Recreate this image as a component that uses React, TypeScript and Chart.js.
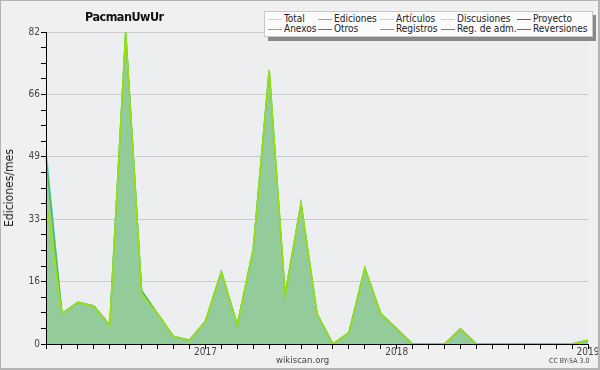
import React, { useEffect, useRef } from "react";
import { Chart, registerables } from "chart.js";
Chart.register(...registerables);

const months = [
  "2016-03", "2016-04", "2016-05", "2016-06", "2016-07", "2016-08", "2016-09", "2016-10", "2016-11", "2016-12",
  "2017-01", "2017-02", "2017-03", "2017-04", "2017-05", "2017-06", "2017-07", "2017-08", "2017-09", "2017-10", "2017-11", "2017-12",
  "2018-01", "2018-02", "2018-03", "2018-04", "2018-05", "2018-06", "2018-07", "2018-08", "2018-09", "2018-10", "2018-11", "2018-12",
  "2019-01",
];

const total = [51, 8, 11, 10, 5, 82, 14, 8, 2, 1, 6, 19, 5, 25, 72, 13, 37, 8, 0, 3, 20, 8, 4, 0, 0, 0, 4, 0, 0, 0, 0, 0, 0, 0, 1];
const ediciones = [49, 8, 11, 10, 5, 82, 14, 8, 2, 1, 6, 19, 5, 25, 72, 13, 37, 8, 0, 3, 20, 8, 4, 0, 0, 0, 4, 0, 0, 0, 0, 0, 0, 0, 1];
const articulos = [38, 8, 11, 10, 5, 82, 13, 8, 2, 1, 6, 19, 5, 25, 72, 13, 37, 8, 0, 3, 20, 8, 4, 0, 0, 0, 4, 0, 0, 0, 0, 0, 0, 0, 1];
const discusiones = [0, 0, 0, 0, 0, 0, 1, 0, 0, 0, 0, 0, 0, 0, 0, 0, 0, 0, 0, 0, 0, 0, 0, 0, 0, 0, 0, 0, 0, 0, 0, 0, 0, 0, 0];
const proyecto = [0, 0, 0, 0, 0, 0, 0, 0, 0, 0, 0, 0, 0, 0, 0, 0, 0, 0, 0, 0, 0, 0, 0, 0, 0, 0, 0, 0, 0, 0, 0, 0, 0, 0, 0];
const anexos = [0, 0, 0, 0, 0, 0, 0, 0, 0, 0, 0, 0, 0, 0, 0, 0, 0, 0, 0, 0, 0, 0, 0, 0, 0, 0, 0, 0, 0, 0, 0, 0, 0, 0, 0];
const otros = [0, 0, 0, 0, 0, 0, 0, 0, 0, 0, 0, 0, 0, 0, 0, 0, 0, 0, 0, 0, 0, 0, 0, 0, 0, 0, 0, 0, 0, 0, 0, 0, 0, 0, 0];
const registros = [5, 0, 0, 0, 0, 0, 0, 0, 0, 0, 0, 0, 0, 0, 0, 0, 0, 0, 0, 0, 0, 0, 0, 0, 0, 0, 0, 0, 0, 0, 0, 0, 0, 0, 0];
const regAdm = [0, 0, 0, 0, 0, 0, 0, 0, 0, 0, 0, 0, 0, 0, 0, 0, 0, 0, 0, 0, 0, 0, 0, 0, 0, 0, 0, 0, 0, 0, 0, 0, 0, 0, 0];
const reversiones = [0, 0, 0, 0, 0, 0, 0, 0, 0, 0, 0, 0, 0, 0, 0, 0, 0, 0, 0, 0, 0, 0, 0, 0, 0, 0, 0, 0, 0, 0, 0, 0, 0, 0, 0];

const yMax = 82;
const yMajorLabels = ["0", "16", "33", "49", "66", "82"];

const legendRow1 = [
  { label: "Total", color: "#a8e4e4" },
  { label: "Ediciones", color: "#77bb77" },
  { label: "Artículos", color: "#c8ee55" },
  { label: "Discusiones", color: "#ffcc55" },
  { label: "Proyecto", color: "#666666" },
];
const legendRow2 = [
  { label: "Anexos", color: "#ff7744" },
  { label: "Otros", color: "#9944ee" },
  { label: "Registros", color: "#7788ee" },
  { label: "Reg. de adm.", color: "#cc44ee" },
  { label: "Reversiones", color: "#ee3333" },
];
const legendCols = [268, 318, 380, 441, 517];

const FONT = "'DejaVu Sans Condensed', 'DejaVu Sans', sans-serif";

const bgPlugin = {
  id: "plotBg",
  beforeDraw(chart: any) {
    const { ctx, chartArea } = chart;
    ctx.save();
    ctx.fillStyle = "#edeef0";
    ctx.fillRect(chartArea.left, chartArea.top, chartArea.right - chartArea.left, chartArea.bottom - chartArea.top);
    ctx.restore();
  },
};

export default function App() {
  const ref = useRef<HTMLCanvasElement | null>(null);
  useEffect(() => {
    document.body.style.margin = "0";
    const line = (label: string, data: number[], color: string, order: number, extra: any = {}) => ({
      label,
      data,
      borderColor: color,
      backgroundColor: color,
      borderWidth: 1,
      pointRadius: 0,
      tension: 0,
      fill: false,
      order,
      ...extra,
    });
    const chart = new Chart(ref.current as HTMLCanvasElement, {
      type: "line",
      data: {
        labels: months,
        datasets: [
          line("Artículos", articulos, "#99e010", 0, { borderWidth: 1.6 }),
          line("Ediciones", ediciones, "#55b855", 1, { fill: "origin", backgroundColor: "#94cb9b", borderWidth: 1.4 }),
          line("Total", total, "#44dddd", 2, { borderWidth: 1.4 }),
          line("Discusiones", discusiones, "#f5c020", 3),
          line("Registros", registros, "#4455ee", 4),
          line("Proyecto", proyecto, "#666666", 5),
          line("Anexos", anexos, "#ff7744", 6),
          line("Otros", otros, "#9944ee", 7),
          line("Reg. de adm.", regAdm, "#cc44ee", 8),
          line("Reversiones", reversiones, "#ee3333", 9),
        ],
      },
      options: {
        animation: false,
        responsive: false,
        events: [],
        layout: { padding: { top: 32, right: 12, left: 0, bottom: 0 } },
        plugins: { legend: { display: false }, tooltip: { enabled: false } },
        scales: {
          x: {
            type: "category",
            offset: false,
            border: { display: true, color: "#000", width: 1, z: 1 },
            grid: { display: true, drawOnChartArea: false, drawTicks: true, tickLength: 5, tickColor: "#000" },
            ticks: {
              autoSkip: false,
              maxRotation: 0,
              padding: -3,
              color: "#444",
              font: { family: FONT, size: 10 },
              callback: (_v: any, i: number) => (months[i].endsWith("-01") ? months[i].slice(0, 4) : ""),
            },
            afterFit: (s: any) => {
              s.height = 26;
            },
          },
          y: {
            type: "linear",
            min: 0,
            max: yMax,
            border: { display: true, color: "#000", width: 1, z: 1 },
            grid: {
              color: (c: any) => (c.index % 4 === 0 ? "#cccccc" : "rgba(0,0,0,0)"),
              tickColor: "#000",
              tickLength: 5,
            },
            afterBuildTicks: (s: any) => {
              s.ticks = Array.from({ length: 21 }, (_, i) => ({ value: (yMax * i) / 20 }));
            },
            ticks: {
              autoSkip: false,
              padding: 1,
              color: "#444",
              font: { family: FONT, size: 10 },
              callback: (_v: any, i: number) => (i % 4 === 0 ? yMajorLabels[i / 4] : ""),
            },
            afterFit: (s: any) => {
              s.width = 46;
            },
          },
        },
      },
      plugins: [bgPlugin],
    } as any);
    return () => chart.destroy();
  }, []);

  const legendItem = (it: { label: string; color: string }, i: number, top: number) => (
    <React.Fragment key={it.label}>
      <div style={{ position: "absolute", left: legendCols[i], top: top + 6, width: 14, height: 1, background: it.color }} />
      <div style={{ position: "absolute", left: legendCols[i] + 16, top: top, height: 12, lineHeight: "12px", whiteSpace: "nowrap", fontFamily: FONT, fontSize: 10, color: "#222" }}>
        {it.label}
      </div>
    </React.Fragment>
  );

  return (
    <div style={{ position: "relative", width: 600, height: 370, background: "#f0f0f0", overflow: "hidden" }}>
      <canvas ref={ref} width={600} height={370} style={{ position: "absolute", left: 0, top: 0, width: 600, height: 370 }} />
      <div style={{ position: "absolute", left: 85, top: 9, fontFamily: FONT, fontWeight: "bold", fontSize: 12.5, letterSpacing: -0.5, color: "#111" }}>PacmanUwUr</div>
      <div style={{ position: "absolute", left: 0, top: 188, width: 0, height: 0 }}>
        <div style={{ position: "absolute", transform: "translate(-50%,-50%) rotate(-90deg)", left: 9, top: 0, fontFamily: FONT, fontSize: 12, color: "#222", whiteSpace: "nowrap" }}>
          Ediciones/mes
        </div>
      </div>
      <div style={{ position: "absolute", left: 276, top: 354, fontFamily: FONT, fontSize: 9.5, color: "#444" }}>wikiscan.org</div>
      <div style={{ position: "absolute", left: 549, top: 357, fontFamily: FONT, fontSize: 7, color: "#444" }}>CC BY-SA 3.0</div>
      <div style={{ position: "absolute", left: 268, top: 15, width: 328, height: 26, background: "#888" }} />
      <div style={{ position: "absolute", left: 264, top: 11, width: 327, height: 24, background: "#fbfbfb", border: "1px solid #c8c8c8" }} />
      <div style={{ position: "absolute", left: 0, top: 0 }}>
        {legendRow1.map((it, i) => legendItem(it, i, 13))}
        {legendRow2.map((it, i) => legendItem(it, i, 23))}
      </div>
      <div style={{ position: "absolute", left: 0, top: 0, width: 600, height: 370, boxSizing: "border-box", border: "2px solid #b4b4b4", borderLeftWidth: 1, borderTopWidth: 1 }} />
    </div>
  );
}
